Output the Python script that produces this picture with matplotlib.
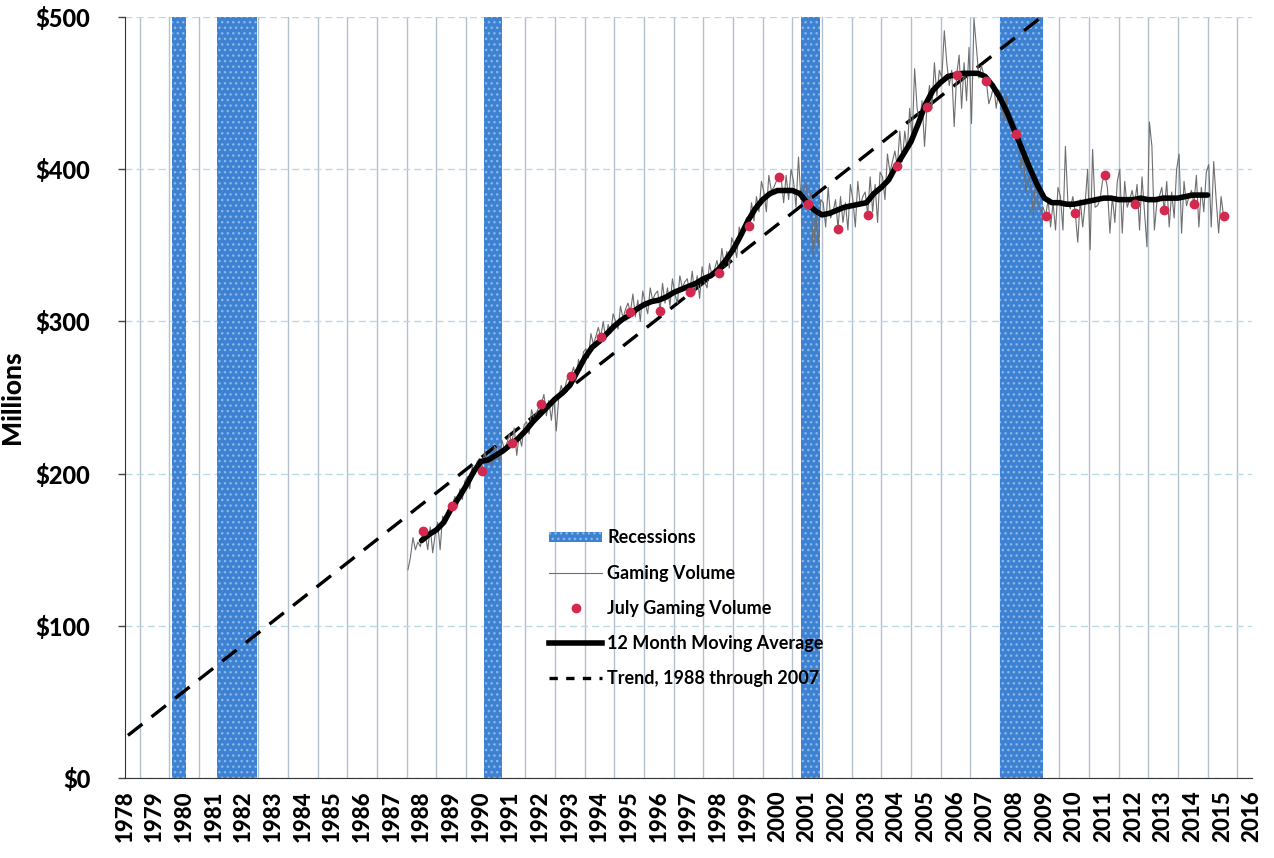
import matplotlib
matplotlib.use("Agg")
import matplotlib.pyplot as plt
from matplotlib.patches import Patch
from matplotlib.lines import Line2D
import numpy as np

plt.rcParams['font.family'] = ['Lato', 'DejaVu Sans']

# Recession spans (decimal years)
recessions = [(1980.1, 1980.55), (1981.6, 1982.95), (1990.6, 1991.2),
              (2001.3, 2001.95), (2008.0, 2009.45)]

# Monthly gaming volume ($ millions), Jan 1988 onward, one row per year
first_year = 1988
gaming_volume = [
    137, 145, 158, 150, 155, 152, 162, 160, 150, 165, 148, 160,  # 1988
    168, 150, 172, 170, 175, 180, 179, 185, 178, 190, 183, 195,  # 1989
    198, 190, 205, 200, 208, 210, 202, 215, 206, 212, 205, 218,  # 1990
    215, 208, 222, 216, 220, 226, 220, 230, 212, 225, 218, 232,  # 1991
    234, 226, 242, 236, 240, 244, 246, 252, 238, 248, 235, 250,  # 1992
    228, 250, 258, 252, 260, 265, 264, 270, 262, 275, 268, 280,  # 1993
    282, 276, 292, 285, 290, 296, 290, 300, 288, 298, 292, 305,  # 1994
    300, 295, 310, 302, 308, 312, 306, 318, 303, 314, 300, 320,  # 1995
    312, 305, 322, 314, 318, 320, 307, 325, 312, 322, 310, 328,  # 1996
    318, 312, 330, 322, 326, 328, 319, 333, 318, 330, 315, 336,  # 1997
    326, 322, 338, 330, 334, 340, 332, 348, 336, 346, 335, 355,  # 1998
    350, 342, 362, 356, 360, 368, 363, 378, 366, 382, 372, 392,  # 1999
    385, 372, 396, 386, 388, 392, 395, 394, 378, 396, 380, 400,  # 2000
    392, 375, 408, 380, 386, 390, 377, 385, 342, 372, 350, 380,  # 2001
    378, 362, 388, 368, 372, 380, 361, 382, 365, 378, 360, 390,  # 2002
    380, 362, 392, 376, 382, 385, 370, 395, 372, 390, 365, 398,  # 2003
    395, 380, 410, 398, 405, 412, 402, 425, 405, 425, 412, 440,  # 2004
    420, 466, 440, 430, 445, 415, 441, 455, 440, 470, 448, 465,  # 2005
    460, 491, 470, 455, 465, 428, 462, 475, 440, 470, 445, 480,  # 2006
    430, 499, 480, 460, 468, 462, 458, 443, 448, 455, 440, 452,  # 2007
    450, 430, 448, 435, 432, 425, 423, 418, 400, 410, 385, 395,  # 2008
    390, 370, 395, 378, 372, 375, 369, 380, 362, 378, 360, 388,  # 2009
    382, 360, 415, 378, 374, 382, 371, 352, 380, 362, 378, 400,  # 2010
    347, 413, 375, 376, 380, 392, 396, 388, 358, 382, 365, 392,  # 2011
    400, 358, 392, 375, 380, 386, 377, 390, 360, 395, 372, 349,  # 2012
    431, 415, 360, 378, 382, 388, 373, 392, 362, 385, 368, 400,  # 2013
    410, 358, 392, 376, 382, 386, 377, 396, 362, 388, 372, 398,  # 2014
    403, 362, 405, 380, 358, 382, 369,                           # 2015
]

# July values
july_years = list(range(1988, 2016))
july_values = [162, 179, 202, 220, 246, 264, 290, 306, 307, 319, 332, 363,
               395, 377, 361, 370, 402, 441, 462, 458, 423, 369, 371, 396,
               377, 373, 377, 369]

# 12 month moving average, quarterly readings from mid 1988
ma_start = 1988.5
ma_values = [
    156, 160, 163, 168, 177, 184,               # 1988.50 - 1989.75
    192, 201, 208, 209,                         # 1990
    212, 215, 219, 223,                         # 1991
    228, 234, 239, 244,                         # 1992
    249, 253, 258, 267,                         # 1993
    276, 283, 287, 292,                         # 1994
    297, 301, 304, 308,                         # 1995
    311, 313, 314, 316,                         # 1996
    319, 321, 323, 325,                         # 1997
    328, 330, 334, 340,                         # 1998
    347, 356, 366, 374,                         # 1999
    380, 384, 386, 386,                         # 2000
    386, 384, 378, 373,                         # 2001
    370, 371, 373, 375,                         # 2002
    376, 377, 378, 384,                         # 2003
    388, 393, 402, 410,                         # 2004
    418, 430, 443, 452,                         # 2005
    457, 461, 462, 463,                         # 2006
    463, 463, 461, 455,                         # 2007
    447, 437, 425, 413,                         # 2008
    401, 390, 381, 378,                         # 2009
    378, 377, 377, 378,                         # 2010
    379, 380, 381, 381,                         # 2011
    380, 380, 380, 381,                         # 2012
    380, 380, 381, 381,                         # 2013
    381, 382, 383, 383,                         # 2014
    383,                                        # 2015.0
]

# Trend, 1988 through 2007 (end points)
trend_years = [1978.6, 2009.4]
trend_values = [28, 500]

year_labels = list(range(1978, 2017))

months = first_year + (np.arange(len(gaming_volume)) + 0.5) / 12
ma_x = ma_start + 0.25 * np.arange(len(ma_values))
july_x = np.array(july_years) + 6.5 / 12

fig = plt.figure(figsize=(12.74, 8.58), dpi=100)
ax = fig.add_axes([125 / 1274, 1 - 778 / 858, 1127 / 1274, 761 / 858])

rec_color = '#3d82d2'
for start, end in recessions:
    ax.axvspan(start, end, facecolor=rec_color, edgecolor='#8db6e6',
               hatch='...', linewidth=0, zorder=1)

ax.plot(trend_years, trend_values, color='black', lw=2.4,
        dashes=(5.5, 3.5), zorder=3)
ax.plot(months, gaming_volume, color='#6e6e6e', lw=0.8, zorder=4)
ax.plot(ma_x, ma_values, color='black', lw=4, solid_capstyle='round', zorder=5)
ax.plot(july_x, july_values, 'o', color='#d3294f', ms=6, zorder=6)

ax.set_xlim(1978.5, 2016.5)
ax.set_ylim(0, 500)

for yr in range(1979, 2017):
    ax.axvline(yr, color='#b3c0cd', lw=1, zorder=0)
ax.set_yticks(range(0, 501, 100))
ax.yaxis.grid(True, color='#b9d9e6', lw=1, ls=(0, (5, 3)))
ax.set_axisbelow(True)

ax.set_xticks([y + 0.5 for y in year_labels])
ax.set_xticklabels([str(y) for y in year_labels], rotation=90,
                   fontsize=16, fontweight='black')
ax.set_yticklabels([f'${v}' for v in range(0, 501, 100)],
                   fontsize=17, fontweight='black')
ax.tick_params(axis='x', length=0, pad=9)
ax.tick_params(axis='y', length=5, width=1, color='#444444', pad=20)
ax.set_ylabel('Millions', fontsize=19, fontweight='black', labelpad=8)

for side in ['top', 'right']:
    ax.spines[side].set_visible(False)
ax.spines['left'].set_color('#333333')
ax.spines['bottom'].set_color('#333333')

handles = [
    Patch(facecolor=rec_color, edgecolor='#8db6e6', hatch='...', lw=0),
    Line2D([], [], color='#6e6e6e', lw=0.8),
    Line2D([], [], marker='o', ls='', color='#d3294f', ms=6),
    Line2D([], [], color='black', lw=4),
    Line2D([], [], color='black', lw=2.4, dashes=(2.5, 2.5)),
]
labels = ['Recessions', 'Gaming Volume', 'July Gaming Volume',
          '12 Month Moving Average', 'Trend, 1988 through 2007']
leg = ax.legend(handles, labels, loc='upper left',
                bbox_to_anchor=(535 / 1274, 1 - 515 / 858),
                bbox_transform=fig.transFigure, frameon=False,
                prop={'size': 13, 'weight': 'bold'},
                handlelength=2.9, handleheight=0.55, labelspacing=1.0,
                handletextpad=0.3, borderpad=0.3)

fig.savefig('out.png', dpi=100)
